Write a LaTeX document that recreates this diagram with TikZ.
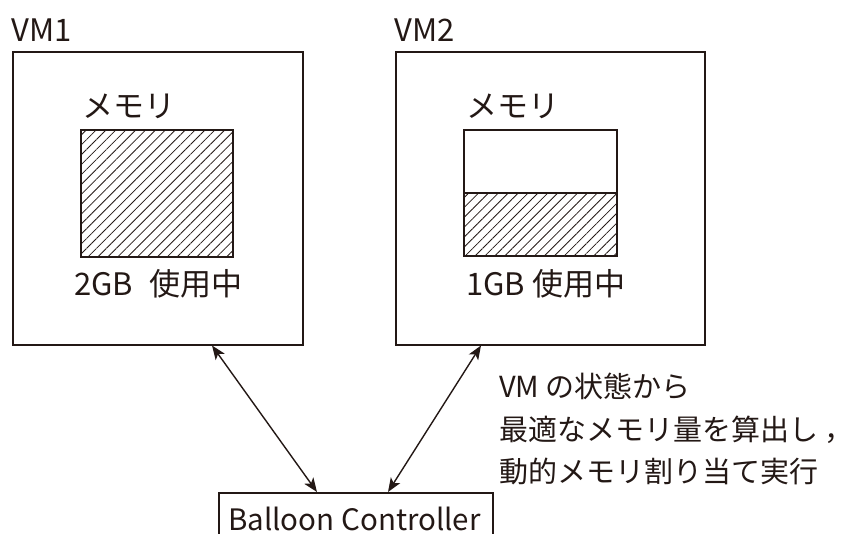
\documentclass[tikz,border=0pt]{standalone}
\usepackage{fontspec}
\setmainfont{Noto Sans CJK JP}
\usetikzlibrary{arrows.meta,patterns.meta,calc}
\definecolor{ink}{HTML}{231815}
\begin{document}
\begin{tikzpicture}[x=1pt,y=-1pt,
  box/.style={draw=ink,line width=1.5pt,inner sep=0pt},
  lbl/.style={text=ink,font=\fontsize{31}{36}\selectfont,inner sep=0pt,anchor=base west},
  side/.style={text=ink,font=\fontsize{29}{36}\selectfont,inner sep=0pt,anchor=base west},
  conn/.style={draw=ink,line width=1.4pt,{Stealth[length=14pt,width=11pt,inset=3.5pt]}-{Stealth[length=14pt,width=11pt,inset=3.5pt]}},
  hatch/.style={pattern={Lines[angle=45,distance=7pt,line width=0.8pt]},pattern color=ink}]
\useasboundingbox (0,0) rectangle (858,533);
% VM boxes
\node[box,minimum width=290pt,minimum height=293pt,anchor=north west] (vm1) at (12,51) {};
\node[box,minimum width=309pt,minimum height=293pt,anchor=north west] (vm2) at (395,51) {};
\node[lbl] (vm1l) at (11,41) {VM1};
\node[lbl] (vm2l) at (394,41) {VM2};
% memory VM1
\node[lbl] (m1l) at (82,117) {メモリ};
\draw[box,hatch] (81,130) rectangle (233,257);
\node[lbl] (u1) at (74,295) {2GB\hspace{0.3em} 使用中};
% memory VM2
\node[lbl] (m2l) at (466,117) {メモリ};
\draw[box,hatch] (464,193) rectangle (617,256);
\draw[box] (464,130) rectangle (617,256);
\node[lbl] (u2) at (466,295) {1GB 使用中};
% controller
\node[box,minimum width=274pt,minimum height=70pt,anchor=north west] (bc) at (218,492) {};
\node[lbl,font=\fontsize{29.5}{36}\selectfont] (bcl) at (228,530) {Balloon Controller};
% arrows
\draw[conn] ($(vm1.south west)+(200,0)$) -- ($(bc.north west)+(99,0)$);
\draw[conn] ($(vm2.south west)+(86,0)$) -- ($(bc.north west)+(170,0)$);
% note
\node[side] (n1) at (499,397) {VM の状態から};
\node[side] (n2) at (499,440) {最適なメモリ量を算出し ，};
\node[side] (n3) at (499,482) {動的メモリ割り当て実行};
\end{tikzpicture}
\end{document}
